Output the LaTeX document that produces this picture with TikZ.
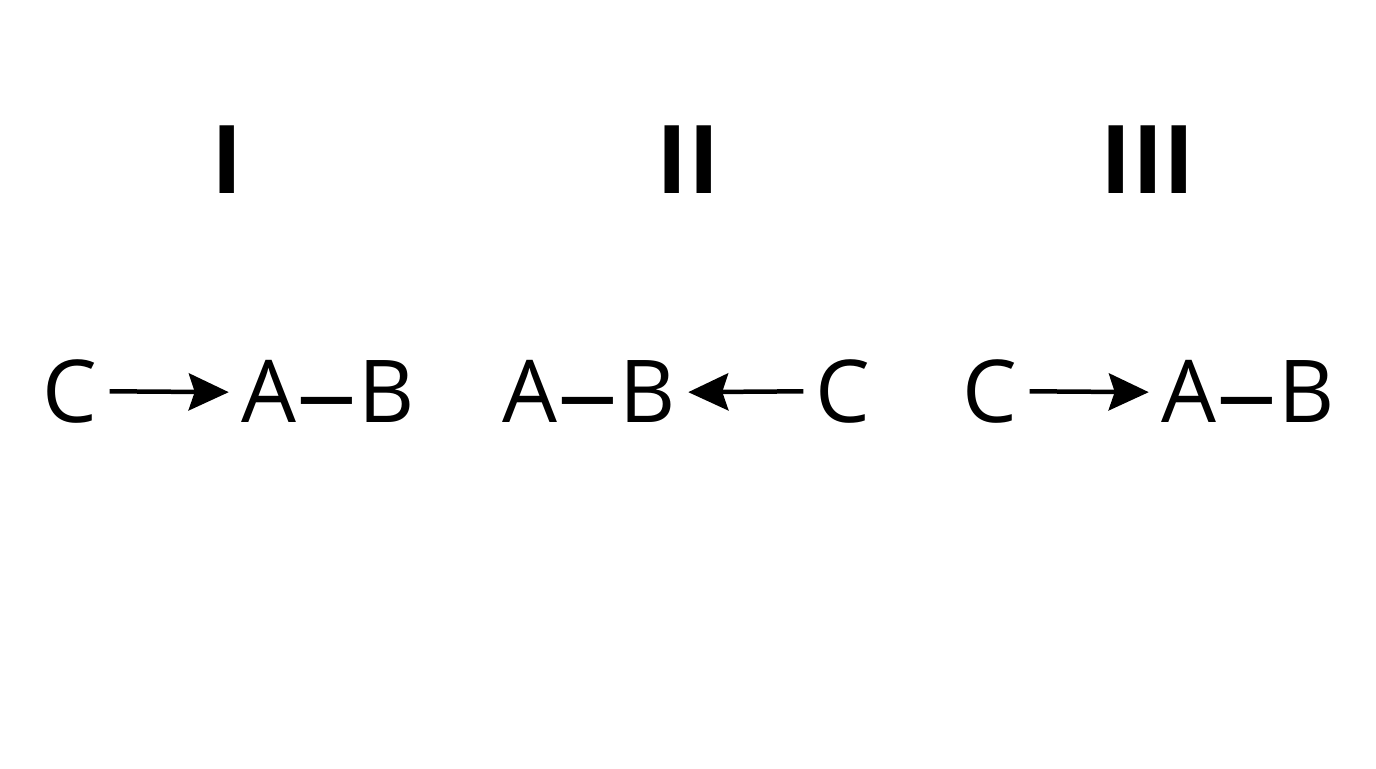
\documentclass[tikz,border=0pt]{standalone}
\usepackage{fontspec}
\setmainfont{Open Sans}
\usetikzlibrary{arrows.meta}
\usetikzlibrary{positioning}
\newcommand{\bonddash}{\kern0.02cm\raisebox{-0.08cm}{\scalebox{1.4}[1.1]{–}}\kern0.02cm}

\begin{document}
\begin{tikzpicture}[x=0.02cm, y=-0.02cm, every node/.style={inner sep=0pt, outer xsep=7pt, anchor=base, font=\fontsize{49.4}{56}\selectfont}, head/.style={font=\bfseries\fontsize{54}{60}\selectfont}, bond/.style={-{Stealth[length=0.8cm, width=0.74cm, inset=0.12cm]}, line width=0.09cm}]
\useasboundingbox (0,0) rectangle (1376,768);
\node[head] (P1T) at (227,193) {I};
\node[head] (P2T) at (688,193) {II};
\node[head] (P3T) at (1148,193) {III};
\node (P1C) at (70,422) {C};
\node (P1AB) at (328,422) {A\bonddash B};
\node (P2AB) at (589,422) {A\bonddash B};
\node (P2C) at (843,422) {C};
\node (P3C) at (990,422) {C};
\node (P3AB) at (1248,422) {A\bonddash B};
\draw[bond] (P1C) -- (P1AB);
\draw[bond] (P2C) -- (P2AB);
\draw[bond] (P3C) -- (P3AB);
\end{tikzpicture}
\end{document}
